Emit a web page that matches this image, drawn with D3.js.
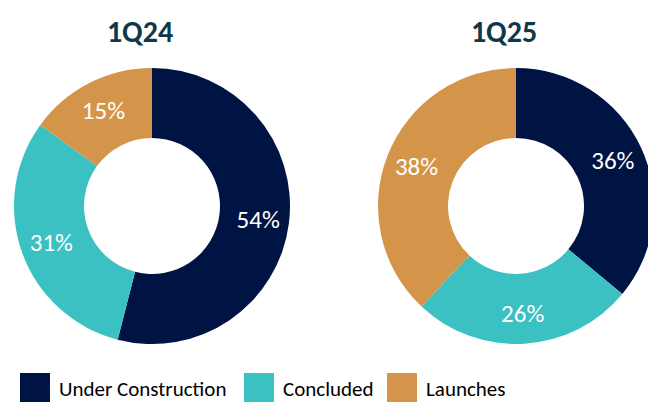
<!DOCTYPE html>
<html>
<head>
<meta charset="utf-8">
<script src="https://cdn.jsdelivr.net/npm/d3@7"></script>
<style>
  body { margin: 0; background: #fff; }
  svg { display: block; font-family: Carlito, Lato, "Open Sans", sans-serif; }
</style>
</head>
<body>
<main></main>
<script>
const categories = ["Under Construction", "Concluded", "Launches"];
const periods = ["1Q24", "1Q25"];
const values1Q24 = [54, 31, 15];
const values1Q25 = [36, 26, 38];
const colors = ["#001443", "#3bc1c2", "#d4954a"];

const w = 648;
const h = 402;
const outerR = 138;
const innerR = 68;

const svg = d3.select("main")
  .append("svg")
  .attr("width", w)
  .attr("height", h);

const color = d3.scaleOrdinal().domain(categories).range(colors);
const pie = d3.pie().sort(null).value(d => d.value);
const arc = d3.arc().innerRadius(innerR).outerRadius(outerR);
const labelArc = d3.arc().innerRadius(107).outerRadius(107);

const donuts = [
  { title: periods[0], cx: 152, values: values1Q24 },
  { title: periods[1], cx: 516, values: values1Q25 }
];

donuts.forEach(dn => {
  const data = categories.map((c, i) => ({ cat: c, value: dn.values[i] }));
  const g = svg.append("g").attr("transform", `translate(${dn.cx},206)`);

  g.selectAll("path")
    .data(pie(data))
    .enter()
    .append("path")
    .attr("fill", d => color(d.data.cat))
    .attr("d", arc);

  g.selectAll("text.lbl")
    .data(pie(data))
    .enter()
    .append("text")
    .attr("class", "lbl")
    .attr("transform", d => `translate(${labelArc.centroid(d)})`)
    .attr("text-anchor", "middle")
    .attr("dy", "0.35em")
    .attr("fill", "#fff")
    .attr("font-size", 25)
    .text(d => d.data.value + "%");

  svg.append("text")
    .attr("x", dn.cx - 12)
    .attr("y", 42)
    .attr("text-anchor", "middle")
    .attr("font-size", 30)
    .attr("font-weight", "bold")
    .attr("fill", "#0f3849")
    .text(dn.title);
});

const legendX = [20, 244, 387];
const legend = svg.append("g");
categories.forEach((c, i) => {
  legend.append("rect")
    .attr("x", legendX[i])
    .attr("y", 373)
    .attr("width", 30)
    .attr("height", 29)
    .attr("fill", colors[i]);
  legend.append("text")
    .attr("x", legendX[i] + 39)
    .attr("y", 396)
    .attr("font-size", 21)
    .attr("fill", "#000")
    .text(c);
});
</script>
</body>
</html>
